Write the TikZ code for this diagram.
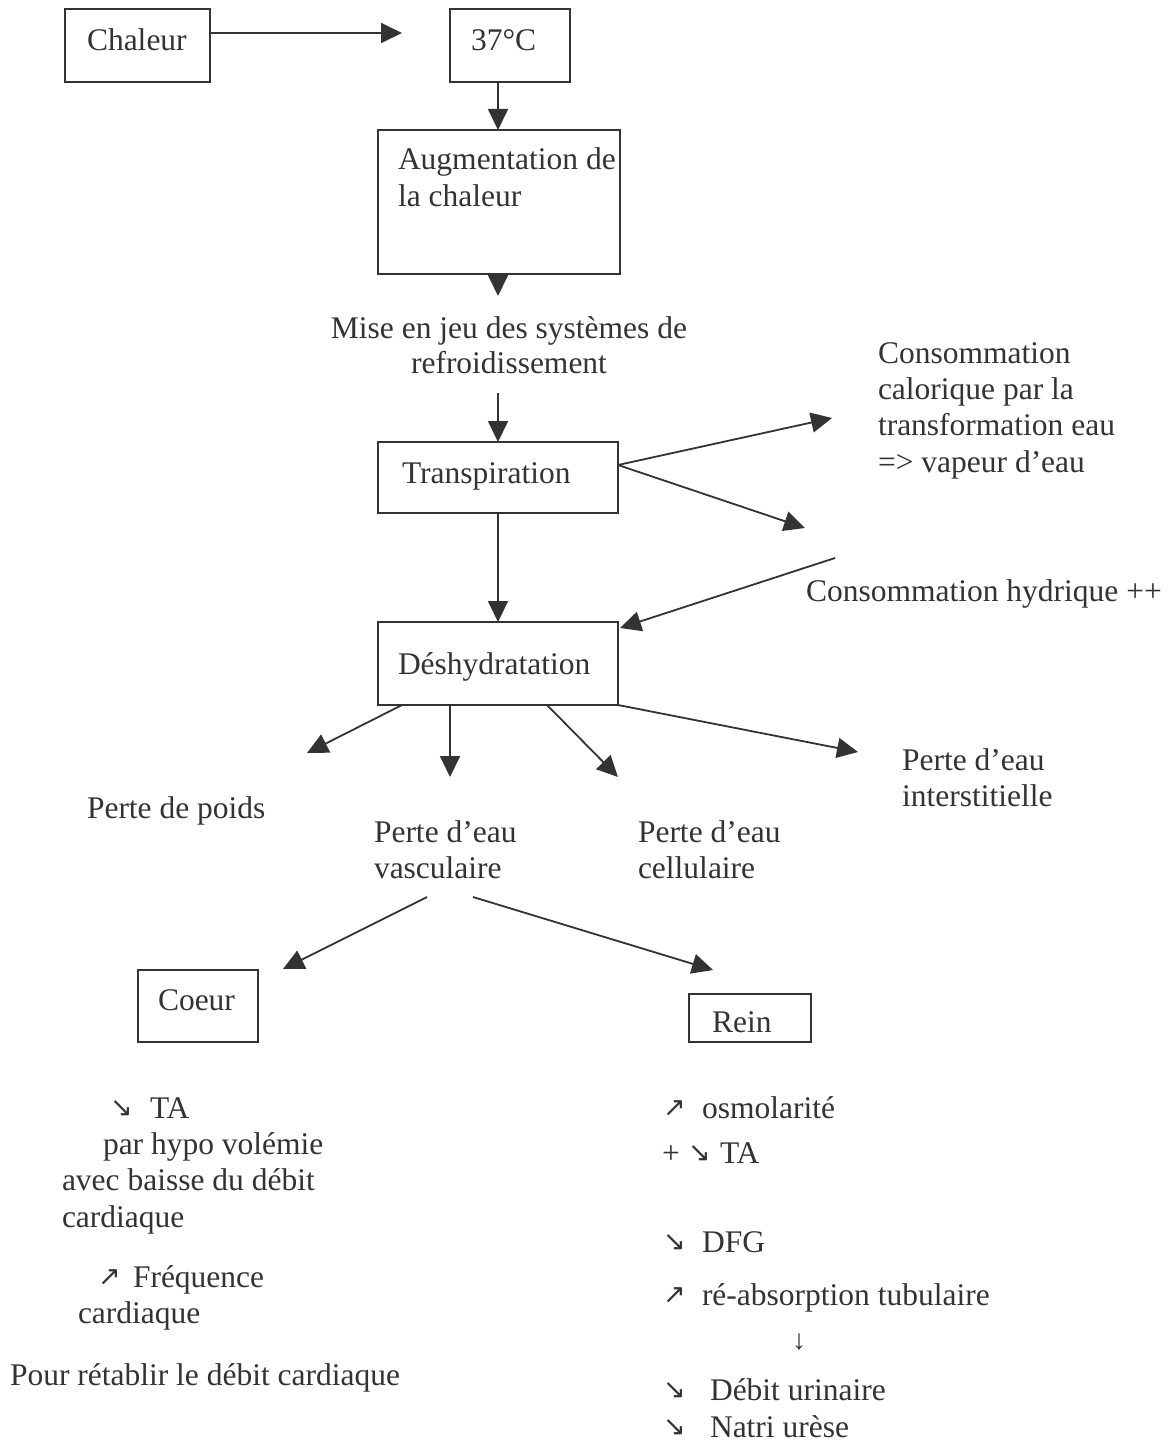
\documentclass[tikz,border=0pt]{standalone}
\usepackage{fontspec}
\setmainfont{Liberation Serif}
\newfontfamily\arrfont{DejaVu Sans}
\usetikzlibrary{arrows.meta}
\definecolor{ink}{HTML}{333333}
\newcommand{\arr}[1]{\raisebox{2pt}{\arrfont\fontsize{27}{27}\selectfont #1}}
\begin{document}
\begin{tikzpicture}[x=1pt,y=-1pt,
  every node/.style={inner sep=0pt, outer sep=0pt, text=ink, font=\fontsize{31.5}{36}\selectfont},
  box/.style={draw=ink, line width=1.8pt},
  txt/.style={anchor=base west},
  ctr/.style={anchor=base},
  conn/.style={draw=ink, line width=1.8pt, -{Triangle[length=21pt,width=20pt]}},
]
\useasboundingbox (0,0) rectangle (1173,1442);
\fill[white] (0,0) rectangle (1173,1442);

% ---- boxes ----
\node[box, minimum width=145pt, minimum height=73pt] (chal) at (137.5,45.5) {};
\node[box, minimum width=120pt, minimum height=73pt] (c37) at (510,45.5) {};
\node[box, minimum width=242pt, minimum height=144pt] (aug) at (499,202) {};
\node[box, minimum width=240pt, minimum height=71pt] (trans) at (498,477.5) {};
\node[box, minimum width=240pt, minimum height=83pt] (desh) at (498,663.5) {};
\node[box, minimum width=120pt, minimum height=72pt] (coeur) at (198,1006) {};
\node[box, minimum width=122pt, minimum height=48pt] (rein) at (750,1018) {};

% ---- texts ----
\node[txt] (tchal) at (87,51) {Chaleur};
\node[txt] (t37) at (471,51) {37°C};
\node[txt] (taug1) at (398,170) {Augmentation de};
\node[txt] (taug2) at (398,207) {la chaleur};
\node[ctr] (mise1) at (509,338) {Mise en jeu des systèmes de};
\node[ctr] (mise2) at (509,373) {refroidissement};
\node[txt] (ttrans) at (402,483) {Transpiration};
\node[txt] (cons1) at (878,363) {Consommation};
\node[txt] (cons2) at (878,399) {calorique par la};
\node[txt] (cons3) at (878,435) {transformation eau};
\node[txt] (cons4) at (878,472) {=> vapeur d’eau};
\node[txt] (hyd) at (806,601) {Consommation hydrique ++};
\node[txt] (tdesh) at (398,674) {Déshydratation};
\node[txt] (poids) at (87,818) {Perte de poids};
\node[txt] (vasc1) at (374,842) {Perte d’eau};
\node[txt] (vasc2) at (374,878) {vasculaire};
\node[txt] (cell1) at (638,842) {Perte d’eau};
\node[txt] (cell2) at (638,878) {cellulaire};
\node[txt] (inter1) at (902,770) {Perte d’eau};
\node[txt] (inter2) at (902,806) {interstitielle};
\node[txt] (tcoeur) at (158,1010) {Coeur};
\node[txt] (trein) at (712,1032) {Rein};

% left column
\node[txt] (l1) at (110,1118) {\makebox[40pt][l]{\arr{↘}}TA};
\node[txt] (l2) at (103,1154) {par hypo volémie};
\node[txt] (l3) at (62,1190) {avec baisse du débit};
\node[txt] (l4) at (62,1227) {cardiaque};
\node[txt] (l5) at (98,1287) {\makebox[35pt][l]{\arr{↗}}Fréquence};
\node[txt] (l6) at (78,1323) {cardiaque};
\node[txt] (l7) at (10,1385) {Pour rétablir le débit cardiaque};

% right column
\node[txt] (r1) at (663,1118) {\makebox[39pt][l]{\arr{↗}}osmolarité};
\node[txt] (r2) at (662,1163) {\makebox[26pt][l]{+}\makebox[32pt][l]{\arr{↘}}TA};
\node[txt] (r3) at (663,1252) {\makebox[39pt][l]{\arr{↘}}DFG};
\node[txt] (r4) at (663,1305) {\makebox[39pt][l]{\arr{↗}}ré-absorption tubulaire};
\node[anchor=center, font=\fontsize{28}{28}\selectfont] (r5) at (799,1342) {↓};
\node[txt] (r6) at (663,1400) {\makebox[47pt][l]{\arr{↘}}Débit urinaire};
\node[txt] (r7) at (663,1437) {\makebox[47pt][l]{\arr{↘}}Natri urèse};

% ---- connector ends ----
\coordinate (vx) at (498,0);
\coordinate (a1) at (402,33);
\coordinate (a2) at (498,296);
\coordinate (a3) at (498,393);
\coordinate (a4) at (832,418);
\coordinate (a5) at (805,528);
\coordinate (a6) at (835,558);
\coordinate (d1) at (402,0);
\coordinate (d2) at (450,0);
\coordinate (d3) at (547,0);
\coordinate (b1) at (307,753);
\coordinate (b2) at (450,777);
\coordinate (b3) at (618,777);
\coordinate (b4) at (858,752);
\coordinate (e1) at (427,897);
\coordinate (f1) at (283,969);
\coordinate (e2) at (473,897);
\coordinate (f2) at (713,970);

% ---- connectors ----
\draw[conn] ([yshift=12.5pt]chal.east) -- (a1);
\draw[conn] (c37.south -| vx) -- (aug.north -| vx);
\draw[conn] (aug.south -| vx) -- (a2);
\draw[conn] (a3) -- (trans.north -| vx);
\draw[conn] ([yshift=12.5pt]trans.east) -- (a4);
\draw[conn] ([yshift=12.5pt]trans.east) -- (a5);
\draw[conn] (a6) -- ([xshift=2pt,yshift=-6pt]desh.north east);
\draw[conn] (trans.south -| vx) -- (desh.north -| vx);
\draw[conn] (desh.south -| d1) -- (b1);
\draw[conn] (desh.south -| d2) -- (b2);
\draw[conn] (desh.south -| d3) -- (b3);
\draw[conn] (desh.south east) -- (b4);
\draw[conn] (e1) -- (f1);
\draw[conn] (e2) -- (f2);
\end{tikzpicture}
\end{document}
